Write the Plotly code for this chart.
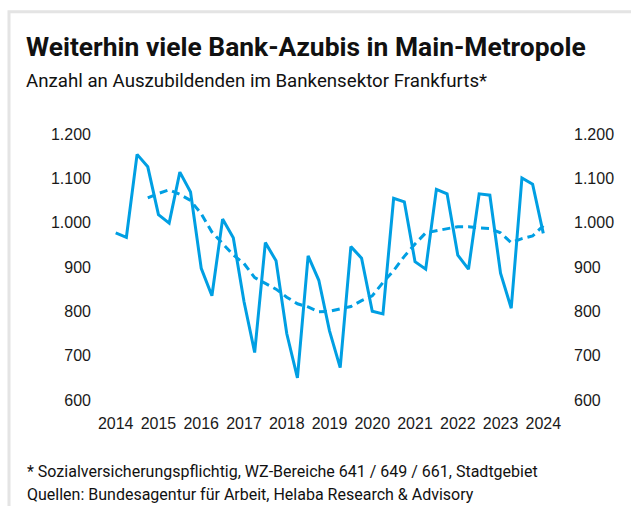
import plotly.graph_objects as go

# Quarterly values 2014 .. 2024 (41 points)
periods = [2014 + i * 0.25 for i in range(41)]
azubis = [977, 967, 1154, 1126, 1018, 999, 1114, 1069, 897, 835,
          1008, 966, 822, 707, 955, 914, 750, 650, 925, 870,
          756, 673, 946, 920, 800, 794, 1055, 1047, 912, 895,
          1075, 1065, 927, 895, 1065, 1062, 886, 807, 1101, 1087, 976]
# Trend (4-quarter average), starts at the 4th quarter
trend_periods = periods[3:]
trend = [1056, 1066, 1074, 1064, 1050, 1020, 979, 952, 927, 908,
         876, 863, 850, 832, 817, 810, 799, 800, 806, 811,
         824, 835, 865, 892, 924, 952, 977, 982, 987, 991,
         991, 988, 987, 977, 955, 964, 970, 993]

year_ticks = list(range(2014, 2025))
year_labels = [str(y) for y in year_ticks]
y_ticks = [600, 700, 800, 900, 1000, 1100, 1200]
y_labels = ["600", "700", "800", "900", "1.000", "1.100", "1.200"]

BLUE = "#009FE3"
NUM_FONT = "Liberation Sans, Arial, sans-serif"
TXT_FONT = "Roboto, sans-serif"

fig = go.Figure()
fig.add_trace(go.Scatter(x=periods, y=azubis, mode="lines",
                         line=dict(color=BLUE, width=3), hoverinfo="skip",
                         showlegend=False))
fig.add_trace(go.Scatter(x=trend_periods, y=trend, mode="lines",
                         line=dict(color=BLUE, width=3, dash="8px,5px"),
                         hoverinfo="skip", showlegend=False))
fig.add_trace(go.Scatter(x=periods, y=azubis, mode="lines", yaxis="y2",
                         line=dict(color="rgba(0,0,0,0)", width=0),
                         hoverinfo="skip", showlegend=False))

L, R, T, B = 100, 560, 134, 400
W, H = 631, 506
pw, ph = R - L, B - T

def px(x):
    return (x - L) / pw

def py(y):
    return (B - y) / ph

fig.update_layout(
    width=W, height=H,
    margin=dict(l=L, r=W - R, t=T, b=H - B, pad=0),
    paper_bgcolor="white", plot_bgcolor="white",
    xaxis=dict(range=[2014 - 15.7 / 42.76, 2024 + 16.7 / 42.76],
               tickvals=year_ticks, ticktext=year_labels,
               showgrid=False, zeroline=False, showline=False,
               ticks="", ticklabelstandoff=12,
               tickfont=dict(family=NUM_FONT, size=16, color="#1a1a1a")),
    yaxis=dict(range=[600, 1200], tickvals=y_ticks, ticktext=y_labels,
               showgrid=False, zeroline=False, showline=False,
               ticks="", ticklabelstandoff=8,
               tickfont=dict(family=NUM_FONT, size=16, color="#1a1a1a")),
    yaxis2=dict(range=[600, 1200], tickvals=y_ticks, ticktext=y_labels,
                overlaying="y", side="right",
                showgrid=False, zeroline=False, showline=False,
                ticks="", ticklabelstandoff=13,
                tickfont=dict(family=NUM_FONT, size=16, color="#1a1a1a")),
    shapes=[dict(type="rect", xref="paper", yref="paper",
                 x0=px(9), x1=px(700), y0=py(600), y1=py(11.7),
                 line=dict(color="#e4e4e4", width=3), layer="below")],
    annotations=[
        dict(text="<b>Weiterhin viele Bank-Azubis in Main-Metropole</b>",
             xref="paper", yref="paper", x=px(24), y=py(46.5),
             xanchor="left", yanchor="middle", showarrow=False,
             font=dict(family=TXT_FONT, size=26.4, color="#111111")),
        dict(text="Anzahl an Auszubildenden im Bankensektor Frankfurts*",
             xref="paper", yref="paper", x=px(24), y=py(81),
             xanchor="left", yanchor="middle", showarrow=False,
             font=dict(family=TXT_FONT, size=18.7, color="#111111")),
        dict(text="* Sozialversicherungspflichtig, WZ-Bereiche 641 / 649 / 661, Stadtgebiet",
             xref="paper", yref="paper", x=px(25), y=py(471),
             xanchor="left", yanchor="middle", showarrow=False,
             font=dict(family=TXT_FONT, size=16, color="#111111")),
        dict(text="Quellen: Bundesagentur für Arbeit, Helaba Research &amp; Advisory",
             xref="paper", yref="paper", x=px(25), y=py(494.5),
             xanchor="left", yanchor="middle", showarrow=False,
             font=dict(family=TXT_FONT, size=16, color="#111111")),
    ],
)

fig.write_html("out.html", config={"displayModeBar": False},
               post_script="document.body.style.margin='0px';")
